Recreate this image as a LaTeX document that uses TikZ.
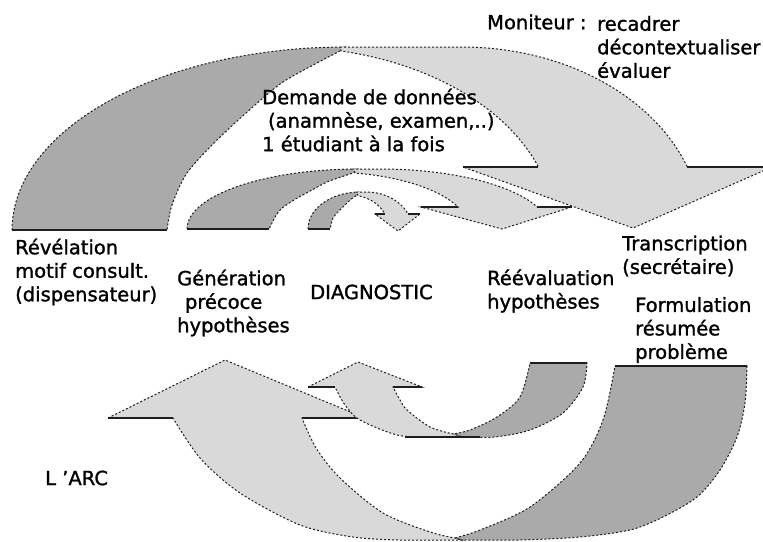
\documentclass[tikz,border=0pt]{standalone}
\usepackage{fontspec}
\setmainfont{DejaVu Sans}[FakeBold=1.3]
\definecolor{arcdark}{RGB}{170,170,170}
\definecolor{arclight}{RGB}{217,217,217}
\definecolor{arcline}{RGB}{30,30,30}
\begin{document}
\begin{tikzpicture}[x = 1pt, y = -1pt,
    dark/.style  = {fill = arcdark, draw = arcline, line width = 1pt, dash pattern = on 2pt off 2pt},
    light/.style = {fill = arclight, draw = arcline, line width = 1pt, dash pattern = on 2pt off 2pt},
    base/.style  = {draw = arcline, line width = 1.2pt},
    lbl/.style   = {font = \fontsize{19.5}{23.5}\selectfont, align = left, anchor = west, inner sep = 0pt}]

            \useasboundingbox (0,0) rectangle (763,541);
            \fill [white] (0,0) rectangle (763,541);
            \clip (0,0) rectangle (763,541);

            % grand arc du haut
            \draw [dark]
            (12,230) -- plot[domain = 180:90, samples = 40] ({345+333*cos(\x)}, {230-183*sin(\x)})
            -- plot[smooth] coordinates {(342,50) (317,63) (283,82) (255,105) (217,140) (187,173) (172,205) (167,230)}
            -- cycle;

            \draw [light]
            (340,47) -- (462,47)
            -- plot[domain = 90:20.1, samples = 40] ({462+240*cos(\x)}, {230-183*sin(\x)})
            -- (772,167) -- (633,228) -- (463,167)
            -- plot[domain = 20.1:78, samples = 40] ({285+270*cos(\x)}, {230-183*sin(\x)})
            -- cycle;

            \draw [base] (12,230) -- (167,230);
            \draw [base] (463,167) -- (538,167);
            \draw [base] (687,167) -- (772,167);

            % arc moyen
            \draw [dark]
            (187,229) -- plot[domain = 180:90, samples = 30] ({358+171*cos(\x)}, {229-60*sin(\x)})
            -- plot[smooth] coordinates {(356,172) (344,176) (327,182) (312,190) (294,200) (279,211) (269,229)}
            -- cycle;

            \draw [light]
            (352,169) -- (380,169)
            -- plot[domain = 90:21.5, samples = 30] ({380+169*cos(\x)}, {229-60*sin(\x)})
            -- (572,207) -- (502,229) -- (421,207)
            -- plot[domain = 22.7:78.5, samples = 30] ({328+141*cos(\x)}, {229-57*sin(\x)})
            -- cycle;

            \draw [base] (187,229) -- (269,229);
            \draw [base] (421,207) -- (458,207);
            \draw [base] (537,207) -- (572,207);

            % petit arc
            \draw [dark]
            (308,229) -- plot[domain = 180:90, samples = 20] ({360+52*cos(\x)}, {229-37*sin(\x)})
            -- plot[smooth] coordinates {(358,195) (354,197) (349,201) (344,206) (338,212) (333,218) (330,229)}
            -- cycle;

            \draw [light]
            (356,192) -- (366,192)
            -- plot[domain = 90:23.9, samples = 20] ({366+46*cos(\x)}, {229-37*sin(\x)})
            -- (420,214) -- (398,231) -- (375,214)
            -- plot[domain = 26.2:78.2, samples = 20] ({350+39*cos(\x)}, {229-34*sin(\x)})
            -- cycle;

            \draw [base] (308,229) -- (330,229);
            \draw [base] (375,214) -- (385,214);
            \draw [base] (408,214) -- (420,214);

            % grand arc du bas
            \draw [dark]
            (615,366) -- (747,366)
            -- plot[smooth] coordinates {(747,366) (745,403) (737,437) (720,470) (697,497) (663,517) (630,530) (580,537) (520,540) (462,540)}
            -- plot[smooth] coordinates {(455,538) (480,530) (530,507) (580,463) (603,420) (615,366)}
            -- cycle;

            \draw [light]
            (108,418) -- (225,360) -- (365,418) -- (302,418)
            -- plot[smooth] coordinates {(302,418) (316,448) (340,478) (383,513) (430,532) (455,538)}
            -- (462,540)
            -- plot[smooth] coordinates {(462,540) (400,540) (353,537) (300,525) (240,493) (200,458) (173,418)}
            -- cycle;

            \draw [base] (615,366) -- (747,366);
            \draw [base] (108,418) -- (173,418);
            \draw [base] (302,418) -- (365,418);

            % petit arc du bas
            \draw [dark]
            (530,363) -- (587,363)
            -- plot[smooth] coordinates {(587,363) (583,387) (563,413) (530,430) (495,437) (463,437)}
            -- plot[smooth] coordinates {(453,434) (470,430) (497,417) (520,397) (530,363)}
            -- cycle;

            \draw [light]
            (308,387) -- (358,362) -- (422,387) -- (393,387)
            -- plot[smooth] coordinates {(393,387) (400,400) (407,410) (430,427) (453,434)}
            -- (463,437)
            -- plot[smooth] coordinates {(463,437) (430,437) (397,435) (360,420) (345,405) (335,387)}
            -- cycle;

            \draw [base] (530,363) -- (587,363);
            \draw [base] (308,387) -- (335,387);
            \draw [base] (393,387) -- (422,387);
            \draw [base] (405,437) -- (480,437);

            % textes
            \node [lbl] (moniteur) at (487,22) {Moniteur :};
            \node [lbl] (taches) at (597,47) {recadrer\\d\'econtextualiser\\\'evaluer};
            \node [lbl] (demande) at (262,120) {Demande de donn\'ees\\\hspace{0.3em}(anamn\`ese, examen,..)\\1 \'etudiant \`a la fois};
            \node [lbl] (revelation) at (15,272) {R\'ev\'elation\\motif consult.\\(dispensateur)};
            \node [lbl] (generation) at (177,303) {G\'en\'eration\\\hspace{0.4em}pr\'ecoce\\hypoth\`eses};
            \node [lbl] (diagnostic) at (310,292) {DIAGNOSTIC};
            \node [lbl] (reevaluation) at (487,291) {R\'e\'evaluation\\hypoth\`eses};
            \node [lbl] (transcription) at (622,256) {Transcription\\(secr\'etaire)};
            \node [lbl] (formulation) at (635,330) {Formulation\\r\'esum\'ee\\probl\`eme};
            \node [lbl] (arc) at (45,478) {L 'ARC};
        \end{tikzpicture}
\end{document}
